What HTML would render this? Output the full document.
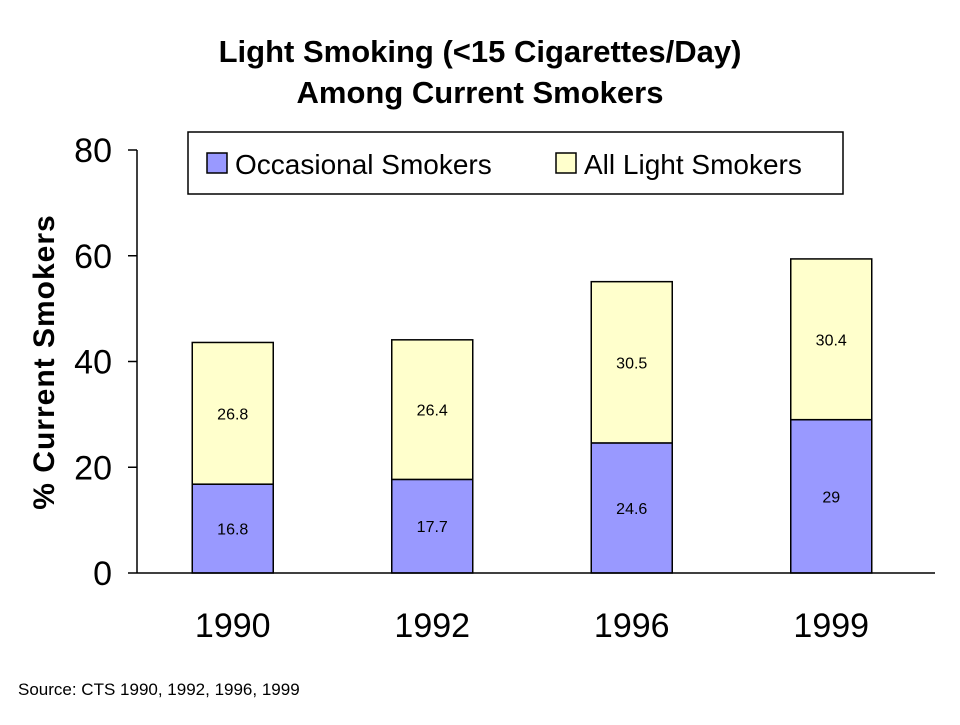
<!DOCTYPE html>
<html><head><meta charset="utf-8"><style>
body{margin:0;background:#fff;width:960px;height:720px;overflow:hidden;font-family:"Liberation Sans",Arial,sans-serif}
</style></head><body>
<svg id="chart" width="960" height="720" xmlns="http://www.w3.org/2000/svg" font-family="Liberation Sans, Arial, sans-serif">
<text x="480" y="62" text-anchor="middle" font-size="31" font-weight="bold">Light Smoking (&lt;15 Cigarettes/Day)</text>
<text x="480" y="103" text-anchor="middle" font-size="31" font-weight="bold">Among Current Smokers</text>
<text transform="translate(54,362) rotate(-90)" text-anchor="middle" font-size="30" font-weight="bold" letter-spacing="1">% Current Smokers</text>
<g id="plot"></g>
<g>
<rect x="188" y="132" width="655" height="62" fill="#fff" stroke="#000" stroke-width="1.5"/>
<rect x="207" y="153" width="20" height="20" fill="#9999ff" stroke="#000" stroke-width="1.5"/>
<text x="235" y="174" font-size="28">Occasional Smokers</text>
<rect x="556" y="153" width="20" height="20" fill="#ffffcc" stroke="#000" stroke-width="1.5"/>
<text x="584" y="174" font-size="28">All Light Smokers</text>
</g>
<text x="18" y="695" font-size="17">Source:  CTS 1990, 1992, 1996, 1999</text>
</svg>
<script>
const categories = ["1990","1992","1996","1999"];
const occasional = [16.8,17.7,24.6,29];
const allLight = [26.8,26.4,30.5,30.4];
const yTicks = [0,20,40,60,80];
const NS="http://www.w3.org/2000/svg";
const g=document.getElementById('plot');
const x0=137,x1=935,yBase=573,yTop=150,yMax=80;
const y=v=>yBase-(v/yMax)*(yBase-yTop);
const step=(x1-x0)/categories.length, bw=81;
const cx=i=>x0+step*(i+0.5)-4;
function mk(tag,attrs){const e=document.createElementNS(NS,tag);for(const k in attrs)e.setAttribute(k,attrs[k]);g.appendChild(e);return e;}
yTicks.forEach(t=>{
  const l=mk('line',{x1:128,x2:x0,y1:y(t),y2:y(t),stroke:'#000','stroke-width':1.5});
  
  
  const tx=mk('text',{x:112,y:y(t)+12,'text-anchor':'end','font-size':34});
  tx.textContent=t;
  
  
});
categories.forEach((c,i)=>{
  const xl=cx(i)-bw/2;
  const b1=mk('rect',{x:xl,y:y(occasional[i]),width:bw,height:yBase-y(occasional[i]),fill:'#9999ff',stroke:'#000','stroke-width':1.5});
  
  
  const top=occasional[i]+allLight[i];
  const b2=mk('rect',{x:xl,y:y(top),width:bw,height:y(occasional[i])-y(top),fill:'#ffffcc',stroke:'#000','stroke-width':1.5});
  
  
  const l1=mk('text',{x:cx(i),y:(y(occasional[i])+yBase)/2+6,'text-anchor':'middle','font-size':16});
  l1.textContent=occasional[i];
  
  
  const l2=mk('text',{x:cx(i),y:(y(top)+y(occasional[i]))/2+6,'text-anchor':'middle','font-size':16});
  l2.textContent=allLight[i];
  
  
  const xt=mk('text',{x:cx(i),y:637,'text-anchor':'middle','font-size':34});
  xt.textContent=c;
  
  
});
const ax=mk('line',{x1:x0,x2:x0,y1:yTop,y2:yBase,stroke:'#000','stroke-width':1.5});


const bx=mk('line',{x1:x0,x2:x1,y1:yBase,y2:yBase,stroke:'#000','stroke-width':1.5});


</script>
</body></html>
